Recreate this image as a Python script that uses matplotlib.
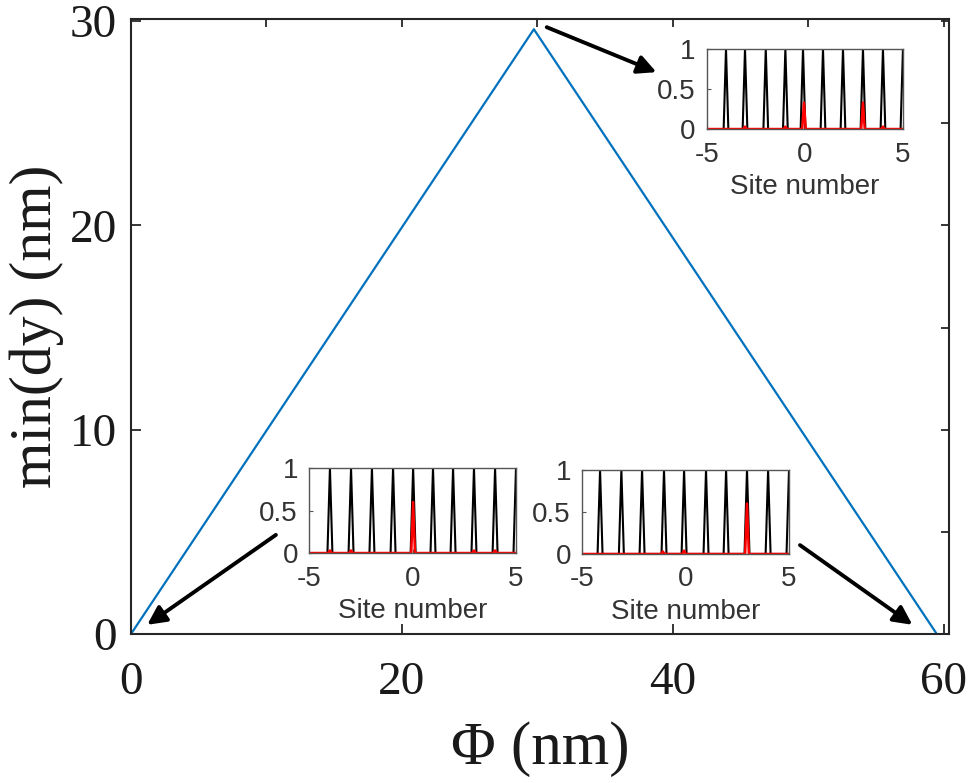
import numpy as np
import matplotlib.pyplot as plt

plt.rcParams['axes.unicode_minus'] = False

# main curve
phi = [0.0, 29.75, 59.5]
min_dy = [0.0, 29.6, 0.0]

x_ticks = [0, 20, 40, 60]
y_ticks = [0, 10, 20, 30]
top_ticks = [0, 10, 20, 30, 40, 50, 60]
right_ticks = [0, 5, 10, 15, 20, 25, 30]

# insets: black spike centres, red peak centres and heights
insets = {
    "top": dict(
        black=[-4.03, -3.06, -2.0, -1.0, -0.1, 0.92, 1.94, 2.96, 3.98, 5.0],
        red_x=[-3.06, -1.0, -0.05, 2.96, 3.98],
        red_h=[0.03, 0.03, 0.33, 0.33, 0.03],
    ),
    "left": dict(
        black=[-3.99, -2.97, -1.96, -0.94, 0.03, 0.99, 1.96, 2.97, 3.99, 5.0],
        red_x=[-3.99, -2.97, 0.03, 2.97, 3.99],
        red_h=[0.03, 0.03, 0.6, 0.03, 0.03],
    ),
    "right": dict(
        black=[-4.13, -3.1, -2.1, -1.04, -0.07, 0.99, 1.96, 2.97, 3.99, 5.0],
        red_x=[-1.1, -0.07, 2.97],
        red_h=[0.03, 0.04, 0.6],
    ),
}
inset_pos = {
    "top": [0.7266, 0.8352, 0.2014, 0.1022],
    "left": [0.3176, 0.2937, 0.2127, 0.1086],
    "right": [0.5982, 0.2925, 0.2127, 0.1073],
}

spine_col = '#262626'

fig = plt.figure(figsize=(9.73, 7.83), dpi=100)
ax = fig.add_axes([0.1346, 0.1903, 0.8407, 0.7854])
ax.plot(phi, min_dy, color='#0072BD', lw=1.6)
ax.set_xlim(0, 60.4)
ax.set_ylim(0, 30.1)
ax.set_xticks(x_ticks)
ax.set_yticks(y_ticks)
for s in ax.spines.values():
    s.set_linewidth(1.5)
    s.set_color(spine_col)
ax.tick_params(direction='in', length=7, width=1.3, color=spine_col,
               labelsize=34, pad=10, labelcolor='#1a1a1a')
ax.tick_params(axis='x', pad=20)
for lab in ax.get_xticklabels() + ax.get_yticklabels():
    lab.set_family('Liberation Serif')
ax.set_xlabel('Φ (nm)', fontsize=44, family='Liberation Serif', labelpad=12,
              color='#1a1a1a')
ax.set_ylabel('min(dy) (nm)', fontsize=43, family='Liberation Serif', labelpad=4,
              color='#1a1a1a')

# top / right ticks at their own spacing
axt = ax.twiny()
axt.set_xlim(ax.get_xlim())
axt.set_xticks(top_ticks)
axt.tick_params(direction='in', length=6, width=1.3, color=spine_col, labeltop=False)
axr = ax.twinx()
axr.set_ylim(ax.get_ylim())
axr.set_yticks(right_ticks)
axr.tick_params(direction='in', length=6, width=1.3, color=spine_col, labelright=False)
for a in (axt, axr):
    for s in a.spines.values():
        s.set_visible(False)

# arrows
arrows = [((30.7, 29.7), (38.8, 27.5)),
          ((10.7, 4.85), (1.2, 0.45)),
          ((49.4, 4.35), (57.7, 0.45))]
for tail, head in arrows:
    ax.annotate('', xy=head, xytext=tail,
                arrowprops=dict(arrowstyle='-|>', color='black', lw=2.8,
                                mutation_scale=28, shrinkA=0, shrinkB=0))

# insets
hw = 0.12
for key, d in insets.items():
    ia = fig.add_axes(inset_pos[key])
    bx, by = [], []
    for c in d["black"]:
        bx += [c - hw, c, c + hw]
        by += [0, 1, 0]
    ia.plot(bx, by, color='black', lw=1.5)
    rx, ry = [-5], [0]
    for c, h in zip(d["red_x"], d["red_h"]):
        rx += [c - 0.09, c, c + 0.09]
        ry += [0, h, 0]
    rx.append(5)
    ry.append(0)
    ia.plot(rx, ry, color='red', lw=1.8)
    ia.set_xlim(-5, 5)
    ia.set_ylim(0, 1)
    ia.set_xticks([-5, 0, 5])
    ia.set_yticks([0, 0.5, 1])
    ia.set_yticklabels(['0', '0.5', '1'])
    for s in ia.spines.values():
        s.set_linewidth(1.0)
        s.set_color('#555555')
    ia.tick_params(direction='in', length=3, width=0.8, color='#555555',
                   labelsize=20, pad=8, labelcolor='#333333')
    ia.tick_params(axis='x', pad=9)
    for lab in ia.get_xticklabels() + ia.get_yticklabels():
        lab.set_family('Liberation Sans')
    ia.set_xlabel('Site number', fontsize=20, family='Liberation Sans',
                  color='#333333', labelpad=5)

fig.savefig('out.png', dpi=100)
